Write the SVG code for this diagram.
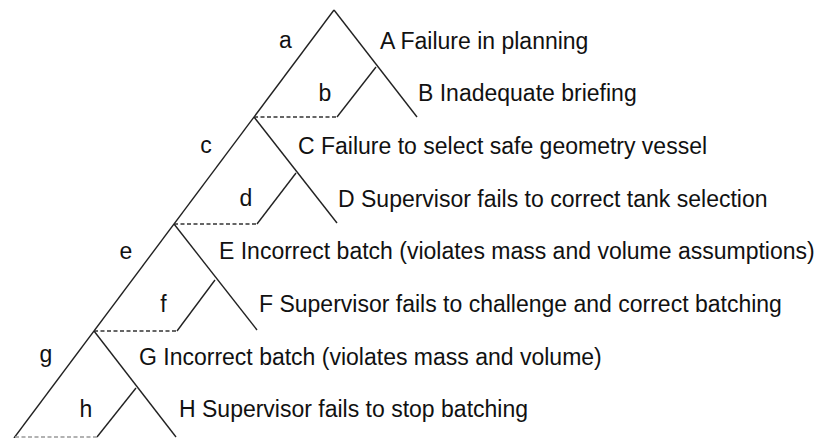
<svg xmlns="http://www.w3.org/2000/svg" width="817" height="438" viewBox="0 0 817 438">
  <style>
    .ln { stroke: #222; stroke-width: 1.4; fill: none; stroke-linecap: butt; }
    .dash { stroke: #333; stroke-width: 1.3; fill: none; stroke-dasharray: 4 2.5; }
    .lbl { font-family: "Liberation Sans", Arial, sans-serif; font-size: 23px; fill: #111; }
    .key { font-family: "Liberation Sans", Arial, sans-serif; font-size: 23px; fill: #111; text-anchor: middle; }
  </style>
  <rect width="817" height="438" fill="#fff"/>

  <!-- connectors: shared spine plus the branches of each gate -->
  <g id="connectors">
    <line class="ln" x1="334" y1="10" x2="14" y2="438"/>
    <!-- gate a / b -->
    <line class="ln" x1="334" y1="10" x2="417" y2="117"/>
    <polyline class="ln" points="376,67 337,117"/>
    <line class="dash" x1="254" y1="117" x2="337" y2="117"/>
    <!-- gate c / d -->
    <line class="ln" x1="254" y1="117" x2="337" y2="223"/>
    <polyline class="ln" points="296,173 257,224"/>
    <line class="dash" x1="174" y1="224" x2="257" y2="224"/>
    <!-- gate e / f -->
    <line class="ln" x1="174" y1="224" x2="257" y2="330"/>
    <polyline class="ln" points="215,280 177,331"/>
    <line class="dash" x1="94" y1="331" x2="177" y2="331"/>
    <!-- gate g / h -->
    <line class="ln" x1="94" y1="331" x2="176" y2="437"/>
    <polyline class="ln" points="136,388 97,437"/>
    <line class="dash" x1="15" y1="437" x2="97" y2="437" style="stroke:#999"/>
  </g>

  <g id="node-a"><text class="key" x="285.5" y="48">a</text></g>
  <g id="node-b"><text class="key" x="325" y="100.7">b</text></g>
  <g id="node-c"><text class="key" x="206" y="153.4">c</text></g>
  <g id="node-d"><text class="key" x="246" y="206.1">d</text></g>
  <g id="node-e"><text class="key" x="126" y="258.8">e</text></g>
  <g id="node-f"><text class="key" x="163.5" y="311.5">f</text></g>
  <g id="node-g"><text class="key" x="46" y="362">g</text></g>
  <g id="node-h"><text class="key" x="86" y="416.9">h</text></g>

  <g id="node-A"><text class="lbl" x="380" y="48.5">A Failure in planning</text></g>
  <g id="node-B"><text class="lbl" x="418" y="101.2">B Inadequate briefing</text></g>
  <g id="node-C"><text class="lbl" x="298" y="153.9">C Failure to select safe geometry vessel</text></g>
  <g id="node-D"><text class="lbl" x="338" y="206.6">D Supervisor fails to correct tank selection</text></g>
  <g id="node-E"><text class="lbl" x="219" y="259.3">E Incorrect batch (violates mass and volume assumptions)</text></g>
  <g id="node-F"><text class="lbl" x="259" y="312">F Supervisor fails to challenge and correct batching</text></g>
  <g id="node-G"><text class="lbl" x="139" y="364.7">G Incorrect batch (violates mass and volume)</text></g>
  <g id="node-H"><text class="lbl" x="179" y="417.4">H Supervisor fails to stop batching</text></g>
</svg>
